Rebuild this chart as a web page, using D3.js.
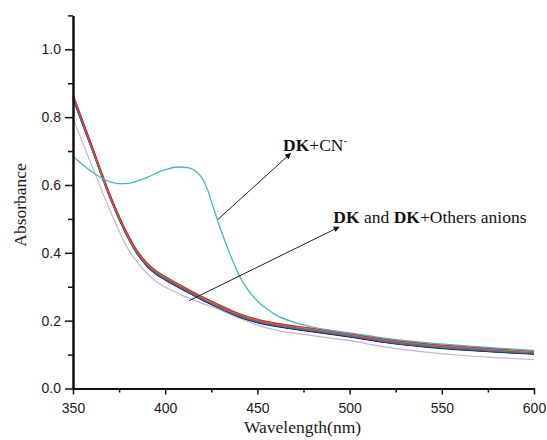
<!DOCTYPE html>
<html>
<head>
<meta charset="utf-8">
<script src="https://cdn.jsdelivr.net/npm/d3@7"></script>
<style>
  html, body { margin: 0; padding: 0; background: #fff; }
  svg { display: block; }
</style>
</head>
<body>
<svg id="chart" width="547" height="440"></svg>
<script>
// ---------------- DATA ----------------
const wavelengths = [350,360,370,380,385,390,395,400,410,420,430,440,450,460,480,500,520,540,560,580,600];

// DK and DK + other anions (bundle of overlapping spectra)
const dkBlack   = [0.858,0.711,0.564,0.443,0.396,0.362,0.338,0.321,0.291,0.262,0.236,0.212,0.195,0.184,0.168,0.153,0.136,0.124,0.115,0.108,0.102];
const dkNavy    = [0.853,0.709,0.563,0.442,0.395,0.361,0.337,0.320,0.290,0.261,0.235,0.211,0.194,0.183,0.167,0.152,0.135,0.123,0.114,0.107,0.101];
const dkGreen   = [0.857,0.712,0.565,0.444,0.397,0.363,0.339,0.322,0.292,0.263,0.237,0.213,0.196,0.185,0.169,0.154,0.137,0.125,0.116,0.109,0.103];
const dkBlue    = [0.855,0.712,0.566,0.445,0.398,0.364,0.340,0.323,0.293,0.264,0.238,0.214,0.197,0.186,0.170,0.155,0.138,0.126,0.117,0.110,0.104];
const dkMagenta = [0.860,0.714,0.567,0.446,0.399,0.365,0.341,0.324,0.294,0.265,0.239,0.215,0.198,0.187,0.171,0.156,0.139,0.127,0.118,0.111,0.105];
const dkOlive   = [0.862,0.715,0.568,0.447,0.400,0.366,0.342,0.325,0.295,0.266,0.240,0.216,0.199,0.188,0.172,0.157,0.140,0.128,0.119,0.112,0.106];
const dkPurple  = [0.861,0.716,0.569,0.448,0.401,0.367,0.343,0.326,0.296,0.267,0.241,0.217,0.200,0.189,0.173,0.158,0.141,0.129,0.120,0.113,0.107];
const dkCyan    = [0.862,0.717,0.570,0.449,0.402,0.368,0.344,0.327,0.297,0.268,0.242,0.218,0.201,0.190,0.174,0.159,0.142,0.130,0.121,0.114,0.108];
const dkOrange  = [0.868,0.719,0.572,0.451,0.404,0.370,0.346,0.329,0.299,0.270,0.244,0.220,0.203,0.192,0.176,0.161,0.144,0.132,0.123,0.116,0.109];
const dkRed     = [0.866,0.720,0.573,0.452,0.405,0.371,0.347,0.330,0.300,0.271,0.245,0.221,0.204,0.193,0.177,0.162,0.145,0.133,0.124,0.117,0.110];

// lowest (light lilac) spectrum
const dkLow     = [0.796,0.660,0.526,0.410,0.372,0.340,0.316,0.299,0.273,0.251,0.231,0.208,0.187,0.172,0.156,0.141,0.122,0.108,0.098,0.091,0.085];

// DK + CN-
const cnWavelengths = [350,360,370,375,380,390,400,407,412,416,420,423,426,430,435,440,445,450,455,460,470,480,500,520,540,560,580,600];
const cnValues      = [0.685,0.640,0.610,0.604,0.605,0.622,0.645,0.653,0.651,0.643,0.620,0.585,0.535,0.470,0.398,0.335,0.290,0.258,0.235,0.217,0.195,0.181,0.164,0.148,0.136,0.127,0.119,0.112];

const bundleSeries = [
  {name: "DK+A1", values: dkNavy,    color: "#1a237e"},
  {name: "DK+A2", values: dkBlack,   color: "#111111"},
  {name: "DK+A3", values: dkGreen,   color: "#2e8b3a"},
  {name: "DK+A4", values: dkBlue,    color: "#2a4fd0"},
  {name: "DK+A5", values: dkMagenta, color: "#c03cc0"},
  {name: "DK+A6", values: dkOlive,   color: "#8a8a20"},
  {name: "DK+A7", values: dkPurple,  color: "#6a3d9a"},
  {name: "DK+A8", values: dkCyan,    color: "#1fa0a0"},
  {name: "DK+A9", values: dkOrange,  color: "#f08020"},
  {name: "DK",    values: dkRed,     color: "#e8202a"}
];

const xMajorTicks = [350,400,450,500,550,600];
const xMinorTicks = [375,425,475,525,575];
const yMajorTicks = [0.0,0.2,0.4,0.6,0.8,1.0];
const yMinorTicks = [0.1,0.3,0.5,0.7,0.9,1.1];

// ---------------- CHART ----------------
(function () {
const svg = d3.select("#chart");
const pLeft = 73, pRight = 534, pTop = 15.4, pBottom = 388.5;

const x = d3.scaleLinear().domain([350, 600]).range([pLeft, pRight]);
const y = d3.scaleLinear().domain([0, 1.1]).range([pBottom, pTop]);

const line = d3.line()
  .x(d => x(d[0]))
  .y(d => y(d[1]))
  .curve(d3.curveMonotoneX);

const pairs = (xs, ys) => xs.map((v, i) => [v, ys[i]]);

const plot = svg.append("g");

plot.append("path")
  .attr("d", line(pairs(wavelengths, dkLow)))
  .attr("fill", "none")
  .attr("stroke", "#c9b3c9")
  .attr("stroke-width", 1.2);

bundleSeries.forEach(s => {
  plot.append("path")
    .attr("d", line(pairs(wavelengths, s.values)))
    .attr("fill", "none")
    .attr("stroke", s.color)
    .attr("stroke-width", 1.2);
});

plot.append("path")
  .attr("d", line(pairs(cnWavelengths, cnValues)))
  .attr("fill", "none")
  .attr("stroke", "#4db6b6")
  .attr("stroke-width", 1.3);

// axes
const tickFont = "'Liberation Sans', Arial, sans-serif";
const serif = "'Liberation Serif', 'Times New Roman', serif";

const xAxis = svg.append("g").attr("transform", `translate(0,${pBottom})`)
  .call(d3.axisBottom(x).tickValues(xMajorTicks).tickSize(6).tickSizeOuter(0).tickFormat(d3.format("d")));
const xAxisMinor = svg.append("g").attr("transform", `translate(0,${pBottom})`)
  .call(d3.axisBottom(x).tickValues(xMinorTicks).tickSize(4).tickSizeOuter(0).tickFormat(""));
const yAxis = svg.append("g").attr("transform", `translate(${pLeft},0)`)
  .call(d3.axisLeft(y).tickValues(yMajorTicks).tickSize(8).tickSizeOuter(0).tickFormat(d3.format(".1f")));
const yAxisMinor = svg.append("g").attr("transform", `translate(${pLeft},0)`)
  .call(d3.axisLeft(y).tickValues(yMinorTicks).tickSize(5).tickSizeOuter(0).tickFormat(""));

[xAxis, xAxisMinor, yAxis, yAxisMinor].forEach(g => {
  g.select(".domain").attr("stroke", "#111").attr("stroke-width", 2);
  g.selectAll(".tick line").attr("stroke", "#111").attr("stroke-width", 1.5);
  g.selectAll(".tick text").attr("font-family", tickFont).attr("font-size", 14).attr("fill", "#1a1a1a");
});
xAxis.selectAll(".tick text").attr("y", 24.5).attr("dy", 0);
yAxis.selectAll(".tick text").attr("x", -12);

// axis titles
svg.append("text")
  .attr("x", (pLeft + pRight) / 2 - 1)
  .attr("y", 433)
  .attr("text-anchor", "middle")
  .attr("font-family", serif)
  .attr("font-size", 17.5)
  .attr("fill", "#1a1a1a")
  .text("Wavelength(nm)");

svg.append("text")
  .attr("transform", `translate(26,${(pTop + pBottom) / 2 + 3}) rotate(-90)`)
  .attr("text-anchor", "middle")
  .attr("font-family", serif)
  .attr("font-size", 17.5)
  .attr("fill", "#1a1a1a")
  .text("Absorbance");

// annotations
const defs = svg.append("defs");
defs.append("marker")
  .attr("id", "arrow")
  .attr("viewBox", "0 0 10 10")
  .attr("refX", 9).attr("refY", 5)
  .attr("markerWidth", 9).attr("markerHeight", 6)
  .attr("markerUnits", "userSpaceOnUse")
  .attr("orient", "auto")
  .append("path").attr("d", "M0,0 L10,5 L0,10 z").attr("fill", "#111");

const arrows = [
  {from: [428.5, 0.498], to: [468.0, 0.693]},
  {from: [413.0, 0.259], to: [494.3, 0.476]}
];
arrows.forEach(a => {
  svg.append("line")
    .attr("x1", x(a.from[0])).attr("y1", y(a.from[1]))
    .attr("x2", x(a.to[0])).attr("y2", y(a.to[1]))
    .attr("stroke", "#222").attr("stroke-width", 1)
    .attr("marker-end", "url(#arrow)");
});

const t1 = svg.append("text")
  .attr("x", x(463.9)).attr("y", y(0.700))
  .attr("font-family", serif).attr("font-size", 17.5).attr("fill", "#111");
t1.append("tspan").attr("font-weight", "bold").text("DK");
t1.append("tspan").text("+CN");
t1.append("tspan").attr("dy", -7).attr("font-size", 11).text("-");

const t2 = svg.append("text")
  .attr("x", x(491.2)).attr("y", y(0.489))
  .attr("font-family", serif).attr("font-size", 17.5).attr("fill", "#111");
t2.append("tspan").attr("font-weight", "bold").text("DK");
t2.append("tspan").text(" and ");
t2.append("tspan").attr("font-weight", "bold").text("DK");
t2.append("tspan").text("+Others anions");
})();
</script>
</body>
</html>
